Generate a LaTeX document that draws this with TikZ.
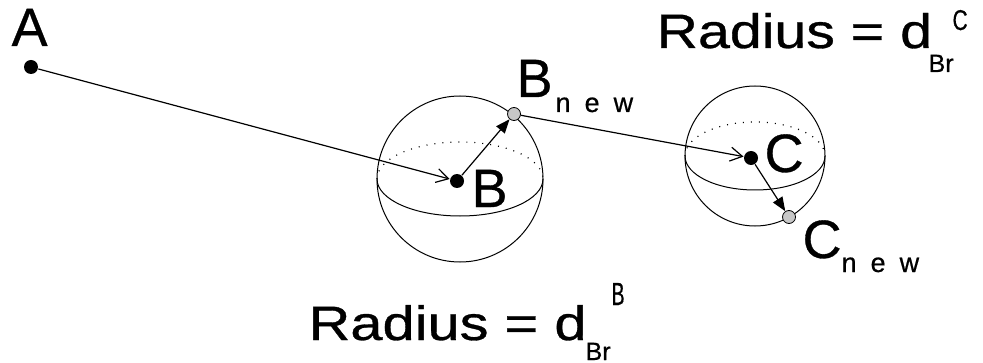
\documentclass[tikz,border=0pt]{standalone}
\usepackage{fontspec}
\setmainfont{Liberation Sans}[FakeBold=0.6]
\usetikzlibrary{arrows.meta}
\tikzset{
  blackdot/.style={circle,fill=black,inner sep=0pt,minimum size=7pt},
  greydot/.style={circle,draw=black,line width=0.4pt,fill=black!22,inner sep=0pt,minimum size=6.5pt},
  ptlbl/.style={inner sep=0pt,anchor=base west,font=\fontsize{27pt}{30pt}\selectfont},
  sublbl/.style={inner sep=0pt,anchor=base west,font=\fontsize{12.5pt}{14pt}\selectfont},
  newlbl/.style={inner sep=0pt,anchor=base west,font=\fontsize{13.5pt}{15pt}\selectfont},
  radlbl/.style={inner sep=0pt,anchor=base west,font=\fontsize{25pt}{30pt}\selectfont},
  openhead/.style={-{Straight Barb[length=6pt,width=7pt]}},
  fullhead/.style={-{Triangle[length=7pt,width=5.5pt]}},
  backline/.style={line width=0.6pt,dash pattern=on 0.5pt off 3.5pt},
}
\newcommand{\widesp}{\spaceskip=7pt\relax}

\begin{document}
\begin{tikzpicture}[x=0.5pt,y=-0.5pt,line width=0.6pt]
\useasboundingbox (0,0) rectangle (983,363);
% spheres
\coordinate (sB) at (460,179); \coordinate (sC) at (755,156);
\draw[line width=0.5pt] (sB) circle (41.5pt) (sC) circle (35pt);
\draw[line width=0.5pt] (sB) ++(-41.5pt,0) arc[start angle=180,end angle=360,x radius=41.5pt,y radius=18.5pt];
\draw[backline] (sB) ++(-41.5pt,0) arc[start angle=180,end angle=0,x radius=41.5pt,y radius=18.5pt];
\draw[line width=0.5pt] (sC) ++(-35pt,0) arc[start angle=180,end angle=360,x radius=35pt,y radius=17pt];
\draw[backline] (sC) ++(-35pt,0) arc[start angle=180,end angle=0,x radius=35pt,y radius=17pt];
% points
\node[blackdot] (A) at (31,67) {};
\node[blackdot] (B) at (457,181) {};
\node[greydot] (Bnew) at (514,114) {};
\node[blackdot] (C) at (751,158) {};
\node[greydot] (Cnew) at (789,217) {};
\draw[openhead] (A) -- (B);
\draw[fullhead] (B) -- (Bnew);
\draw[openhead] (Bnew) -- (C);
\draw[fullhead] (C) -- (Cnew);
% labels
\node[ptlbl] (labA) at (11,46) {A};
\node[ptlbl] (labB) at (471,207) {B};
\node[ptlbl] (labBnew) at (516,97) {B};
\node[newlbl] (subBnew) at (555,112) {\widesp n e w};
\node[ptlbl] (labC) at (764,172) {C};
\node[ptlbl] (labCnew) at (802,258) {C};
\node[newlbl] (subCnew) at (841,272) {\widesp n e w};
% radius labels
\node[radlbl] (radB) at (308,340) {\resizebox{139pt}{17.5pt}{Radius = d}};
\node[sublbl] (radBsub) at (585,360) {Br};
\node[sublbl] (radBsup) at (611,305) {\resizebox{6.5pt}{11pt}{B}};
\node[radlbl] (radC) at (656,48) {\resizebox{137.75pt}{17.5pt}{Radius = d}};
\node[sublbl] (radCsub) at (928,72) {Br};
\node[sublbl] (radCsup) at (952,30) {\resizebox{7.5pt}{10pt}{C}};
\end{tikzpicture}
\end{document}
